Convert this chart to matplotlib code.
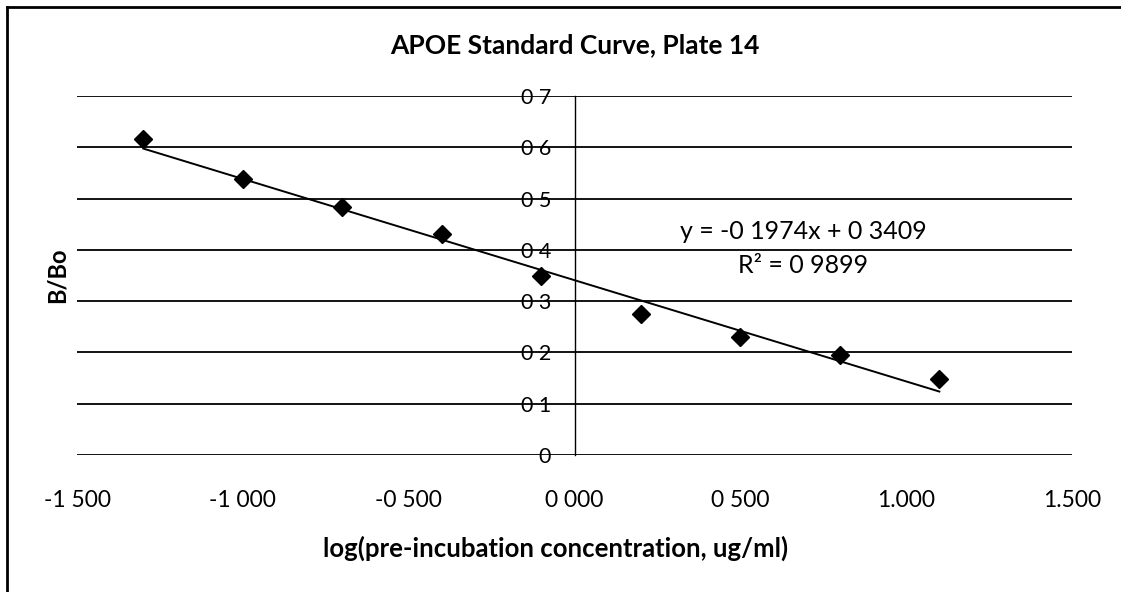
import matplotlib
matplotlib.use("Agg")
import matplotlib.pyplot as plt
from matplotlib.lines import Line2D

plt.rcParams['font.family'] = ['Lato', 'DejaVu Sans']

# data
log_conc = [-1.3, -1.0, -0.7, -0.4, -0.1, 0.2, 0.5, 0.8, 1.1]
b_bo = [0.617, 0.539, 0.484, 0.431, 0.349, 0.274, 0.231, 0.195, 0.149]

slope = -0.1974
intercept = 0.3409

x_ticks = [-1.5, -1.0, -0.5, 0.0, 0.5, 1.0, 1.5]
x_tick_labels = ["-1 500", "-1 000", "-0 500", "0 000", "0 500", "1.000", "1.500"]
y_ticks = [0, 0.1, 0.2, 0.3, 0.4, 0.5, 0.6, 0.7]
y_tick_labels = ["0", "0 1", "0 2", "0 3", "0 4", "0 5", "0 6", "0 7"]

fig = plt.figure(figsize=(11.21, 5.92), dpi=100)
ax = fig.add_axes([0.0687, 0.2314, 0.8876, 0.6064])

# y axis crosses at x = 0 (set before tick labels, it resets ticks)
for s in ['top', 'right', 'bottom']:
    ax.spines[s].set_visible(False)
ax.spines['left'].set_position(('data', 0))
ax.spines['left'].set_linewidth(1.0)

# trendline
fit_x = [log_conc[0], log_conc[-1]]
fit_y = [slope * v + intercept for v in fit_x]
ax.plot(fit_x, fit_y, color='black', lw=1.4, zorder=3)
ax.plot(log_conc, b_bo, linestyle='none', marker='D', markersize=9,
        color='black', zorder=4)

ax.set_xlim(-1.5, 1.5)
ax.set_ylim(0, 0.7)
ax.set_xticks(x_ticks)
ax.set_xticklabels(x_tick_labels)
ax.set_yticks(y_ticks)
ax.set_yticklabels(y_tick_labels)
ax.tick_params(axis='x', length=0, pad=25, labelsize=16.5)
ax.tick_params(axis='y', length=0, pad=17, labelsize=15.5)

ax.yaxis.grid(True, color='black', lw=1.3)
ax.set_axisbelow(True)

ax.text(0.5, 1.142, "APOE Standard Curve, Plate 14", transform=ax.transAxes,
        ha='center', va='center', fontsize=19, fontweight='bold')
fig.text(0.496, 0.073, "log(pre-incubation concentration, ug/ml)",
         ha='center', va='center', fontsize=18.5, fontweight='bold')
fig.text(0.051, 0.535, "B/Bo", rotation=90, ha='center', va='center',
         fontsize=17, fontweight='bold')

ax.text(0.69, 0.435, "y = -0 1974x + 0 3409", ha='center', va='center', fontsize=18)
ax.text(0.69, 0.37, "R² = 0 9899", ha='center', va='center', fontsize=18)

# outer frame of the chart
fig.add_artist(Line2D([7 / 1121, 1], [1 - 7 / 592, 1 - 7 / 592],
                      transform=fig.transFigure, color='black', lw=2))
fig.add_artist(Line2D([7 / 1121, 7 / 1121], [0, 1 - 7 / 592],
                      transform=fig.transFigure, color='black', lw=2))

fig.savefig("out.png", dpi=100)
